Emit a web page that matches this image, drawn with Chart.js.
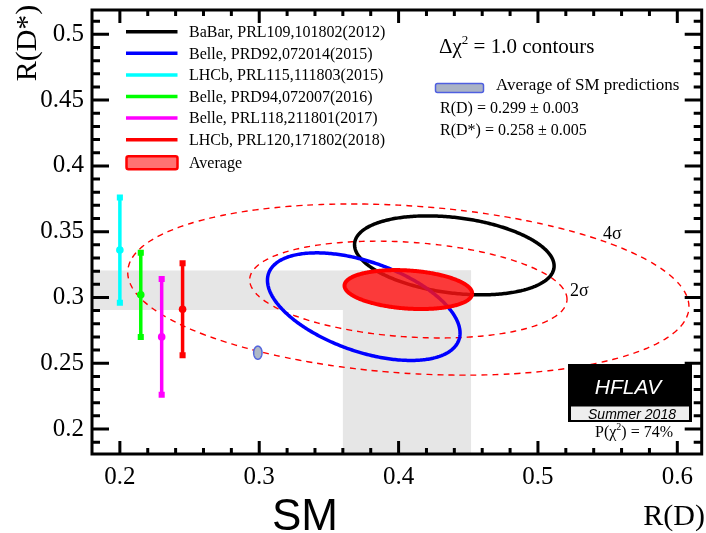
<!DOCTYPE html>
<html><head><meta charset="utf-8">
<script src="https://cdn.jsdelivr.net/npm/chart.js@4/dist/chart.umd.min.js"></script>
<style>html,body{margin:0;padding:0;background:#fff;overflow:hidden}#wrap{width:706px;height:533px;position:relative}</style>
</head><body><div id="wrap"><canvas id="c" width="706" height="533"></canvas></div>
<script>
// ---------------- data ----------------
const xRange = [0.18, 0.6175];              // R(D) axis range
const yRange = [0.181, 0.5185];             // R(D*) axis range
const xTickValues = [0.2, 0.3, 0.4, 0.5, 0.6];
const yTickValues = [0.2, 0.25, 0.3, 0.35, 0.4, 0.45, 0.5];

// 2D measurements (Δχ²=1 contours): R(D), σ, R(D*), σ, correlation
const ellNames = ['BaBar, PRL109,101802(2012)', 'Belle, PRD92,072014(2015)'];
const ellRD    = [0.440, 0.375];
const ellRDerr = [0.0716, 0.0691];
const ellRDs   = [0.332, 0.293];
const ellRDserr= [0.030, 0.0409];
const ellRho   = [-0.27, -0.49];

// R(D*)-only measurements, drawn as vertical error bars
const measNames = ['LHCb, PRL115,111803(2015)', 'Belle, PRD94,072007(2016)', 'Belle, PRL118,211801(2017)', 'LHCb, PRL120,171802(2018)'];
const measX  = [0.200, 0.215, 0.230, 0.245];
const measRDs= [0.336, 0.302, 0.270, 0.291];
const measLo = [0.296, 0.270, 0.226, 0.256];
const measHi = [0.376, 0.334, 0.314, 0.326];

// world average
const avgName = 'Average';
const avgRD = 0.407, avgRDerr = 0.0458, avgRDs = 0.306, avgRDserr = 0.0148, avgRho = -0.20;
const contourDchi2 = [6.18, 19.33];   // 2σ, 4σ (2 d.o.f.)
const contourLabels = ['2σ', '4σ'];

// 1σ bands of the average
const bandRD  = [0.360, 0.452];
const bandRDs = [0.2905, 0.3205];

// SM prediction
const smRD = 0.299, smRDerr = 0.003, smRDs = 0.258, smRDserr = 0.005;
const pChi2 = '74%';

// ---------------- styles ----------------
const ellColors  = ['#000000', '#0000ff'];
const measColors = ['#00ffff', '#00ff00', '#ff00ff', '#ff0000'];
const SERIF = '"Liberation Serif", "Times New Roman", serif';
const SANS = '"Liberation Sans", Arial, sans-serif';

function ellipsePoints(cx, sx, cy, sy, rho, k, n) {
  n = n || 180;
  const r = Math.sqrt(k), c = Math.sqrt(1 - rho * rho), pts = [];
  for (let i = 0; i <= n; i++) {
    const t = 2 * Math.PI * i / n;
    pts.push({x: cx + r * sx * Math.cos(t), y: cy + r * sy * (rho * Math.cos(t) + c * Math.sin(t))});
  }
  return pts;
}
function rectPoints(x0, x1, y0, y1) {
  return [{x:x0,y:y0},{x:x1,y:y0},{x:x1,y:y1},{x:x0,y:y1},{x:x0,y:y0}];
}

const datasets = [];
// grey bands
datasets.push({label:'bandH', data: rectPoints(xRange[0], bandRD[1], bandRDs[0], bandRDs[1]), showLine:true, fill:'shape',
  backgroundColor:'#e6e6e6', borderColor:'rgba(0,0,0,0)', borderWidth:0, pointRadius:0, order:20});
datasets.push({label:'bandV', data: rectPoints(bandRD[0], bandRD[1], yRange[0], bandRDs[1]), showLine:true, fill:'shape',
  backgroundColor:'#e6e6e6', borderColor:'rgba(0,0,0,0)', borderWidth:0, pointRadius:0, order:20});
// sigma contours of the average
contourDchi2.forEach((k, i) => datasets.push({label: contourLabels[i],
  data: ellipsePoints(avgRD, avgRDerr, avgRDs, avgRDserr, avgRho, k), showLine:true, fill:false,
  borderColor:'#ff0000', borderWidth:1.4, borderDash:[6,5], pointRadius:0, tension:0.001, order:15}));
// measurement ellipses
ellNames.forEach((nm, i) => datasets.push({label: nm,
  data: ellipsePoints(ellRD[i], ellRDerr[i], ellRDs[i], ellRDserr[i], ellRho[i], 1), showLine:true, fill:false,
  borderColor: ellColors[i], borderWidth:3.5, pointRadius:0, tension:0.001, order:12 - i}));
// average
datasets.push({label: avgName, data: ellipsePoints(avgRD, avgRDerr, avgRDs, avgRDserr, avgRho, 1), showLine:true,
  fill:'shape', backgroundColor:'rgba(255,20,20,0.82)', borderColor:'#ff0000', borderWidth:4, pointRadius:0,
  tension:0.001, order:5});
// error bars
measNames.forEach((nm, i) => datasets.push({label: nm,
  data: [{x: measX[i], y: measLo[i]}, {x: measX[i], y: measRDs[i]}, {x: measX[i], y: measHi[i]}],
  showLine:true, fill:false, borderColor: measColors[i], borderWidth:3.5,
  pointStyle:['rect','circle','rect'], pointRadius:[4.3,3.8,4.3], pointBorderWidth:0,
  pointBackgroundColor: measColors[i], order:3}));
// SM prediction
datasets.push({label:'SM', data: ellipsePoints(smRD, smRDerr, smRDs, smRDserr, 0, 1, 48), showLine:true, fill:'shape',
  backgroundColor:'#aeb8c6', borderColor:'#5566dd', borderWidth:1.5, pointRadius:0, tension:0.001, order:1});

function fmt(v) { return String(parseFloat(v.toFixed(2))); }

function drawRich(ctx, x, y, parts, family, align, style) {
  let w = 0;
  for (const p of parts) { ctx.font = (style||'') + ' ' + p[1] + 'px ' + family; w += ctx.measureText(p[0]).width; }
  let cx = align === 'center' ? x - w / 2 : align === 'right' ? x - w : x;
  ctx.textAlign = 'left'; ctx.textBaseline = 'alphabetic';
  for (const p of parts) {
    ctx.font = (style||'') + ' ' + p[1] + 'px ' + family;
    ctx.fillText(p[0], cx, y + (p[2] || 0));
    cx += ctx.measureText(p[0]).width;
  }
}

const overlay = {
  id: 'overlay',
  afterDatasetsDraw(chart) {
    const {ctx, chartArea: a, scales: {x, y}} = chart;
    ctx.save();
    // ticks (inward, all four sides)
    ctx.strokeStyle = '#000'; ctx.lineWidth = 3; ctx.lineCap = 'butt';
    ctx.beginPath();
    for (let i = 0; ; i++) {
      const v = 0.2 + i * 0.02; if (v > xRange[1] + 1e-9) break;
      const px = x.getPixelForValue(v);
      const major = xTickValues.some(t => Math.abs(t - v) < 1e-6);
      const L = major ? 13 : 6;
      ctx.moveTo(px, a.bottom); ctx.lineTo(px, a.bottom - L);
      ctx.moveTo(px, a.top); ctx.lineTo(px, a.top + L);
    }
    for (let i = 0; ; i++) {
      const v = 0.19 + i * 0.01; if (v > yRange[1] + 1e-9) break;
      const py = y.getPixelForValue(v);
      const major = yTickValues.some(t => Math.abs(t - v) < 1e-6);
      const L = major ? 17 : 8;
      ctx.moveTo(a.left, py); ctx.lineTo(a.left + L, py);
      ctx.moveTo(a.right, py); ctx.lineTo(a.right - L, py);
    }
    ctx.stroke();
    ctx.lineWidth = 3;
    ctx.strokeRect(a.left, a.top, a.right - a.left, a.bottom - a.top);

    ctx.fillStyle = '#000';
    // contour labels
    drawRich(ctx, 603, 239, [[contourLabels[1], 18]], SERIF, 'left');
    drawRich(ctx, 570, 296, [[contourLabels[0], 18]], SERIF, 'left');

    // legend (left)
    const ly0 = 31.7, lstep = 21.6;
    const legNames = ellNames.concat(measNames);
    const legColors = ellColors.concat(measColors);
    legNames.forEach((nm, i) => {
      const yy = ly0 + i * lstep;
      ctx.strokeStyle = legColors[i]; ctx.lineWidth = 3.5;
      ctx.beginPath(); ctx.moveTo(126, yy); ctx.lineTo(177.5, yy); ctx.stroke();
      ctx.fillStyle = '#000'; ctx.font = '16px ' + SERIF; ctx.textAlign = 'left'; ctx.textBaseline = 'middle';
      ctx.fillText(nm, 189, yy + 1);
    });
    {
      const yy = ly0 + legNames.length * lstep + 1.5;
      ctx.fillStyle = 'rgba(255,0,0,0.55)'; ctx.strokeStyle = '#ff0000'; ctx.lineWidth = 2.5;
      ctx.beginPath(); ctx.roundRect(126.5, yy - 6.5, 51, 13, 2); ctx.fill(); ctx.stroke();
      ctx.fillStyle = '#000'; ctx.font = '16px ' + SERIF; ctx.textAlign = 'left'; ctx.textBaseline = 'middle';
      ctx.fillText(avgName, 189, yy + 1);
    }

    // right text block
    ctx.fillStyle = '#000';
    drawRich(ctx, 439, 53, [['Δχ', 21], ['2', 13, -9], [' = 1.0 contours', 21]], SERIF, 'left');
    ctx.fillStyle = '#aab3c6'; ctx.strokeStyle = '#4f5fe0'; ctx.lineWidth = 1.5;
    ctx.beginPath(); ctx.roundRect(435.5, 83.5, 48, 9, 2); ctx.fill(); ctx.stroke();
    ctx.fillStyle = '#000';
    drawRich(ctx, 496, 89.5, [['Average of SM predictions', 17]], SERIF, 'left');
    drawRich(ctx, 440, 112.5, [['R(D) = ' + smRD.toFixed(3) + ' ± ' + smRDerr.toFixed(3), 16]], SERIF, 'left');
    drawRich(ctx, 440, 134.5, [['R(D*) = ' + smRDs.toFixed(3) + ' ± ' + smRDserr.toFixed(3), 16]], SERIF, 'left');

    // HFLAV logo
    ctx.fillStyle = '#000'; ctx.fillRect(568, 364, 124, 58);
    ctx.fillStyle = '#eeeeee'; ctx.fillRect(571, 406.5, 118, 13.5);
    ctx.fillStyle = '#fff';
    drawRich(ctx, 628, 394, [['HFLAV', 21]], SANS, 'center', 'italic');
    ctx.fillStyle = '#000';
    drawRich(ctx, 632, 418.5, [['Summer 2018', 14]], SANS, 'center', 'italic');
    drawRich(ctx, 634, 436.5, [['P(χ', 16], ['2', 10, -7], [') = ' + pChi2, 16]], SERIF, 'center');

    // axis titles
    ctx.save();
    ctx.translate(36, 43); ctx.rotate(-Math.PI / 2);
    ctx.font = '30px ' + SERIF; ctx.textAlign = 'center'; ctx.textBaseline = 'alphabetic';
    ctx.fillText('R(D*)', 0, 0);
    ctx.restore();
    drawRich(ctx, 705, 525, [['R(D)', 30]], SERIF, 'right');
    drawRich(ctx, 305, 530, [['SM', 44]], SANS, 'center');
    ctx.restore();
  }
};

new Chart(document.getElementById('c'), {
  type: 'scatter',
  data: {datasets},
  options: {
    responsive: false, animation: false, events: [],
    layout: {padding: {top: 10, right: 1.5, left: 0, bottom: 0}},
    plugins: {legend: {display: false}, tooltip: {enabled: false}},
    elements: {line: {tension: 0}},
    scales: {
      x: {type: 'linear', min: xRange[0], max: xRange[1],
        afterBuildTicks: s => { s.ticks = xTickValues.map(v => ({value: v})); },
        afterFit: s => { s.height = 79; s.paddingLeft = 0; s.paddingRight = 0; s.paddingTop = 0; s.paddingBottom = 0; },
        grid: {display: false, drawTicks: false}, border: {display: false},
        ticks: {color: '#000', font: {family: SERIF, size: 25}, padding: 8, maxRotation: 0, autoSkip: false,
          callback: v => fmt(v)}},
      y: {type: 'linear', min: yRange[0], max: yRange[1],
        afterBuildTicks: s => { s.ticks = yTickValues.map(v => ({value: v})); },
        afterFit: s => { s.width = 92; s.paddingTop = 0; s.paddingBottom = 0; s.paddingLeft = 0; s.paddingRight = 0; },
        grid: {display: false, drawTicks: false}, border: {display: false},
        ticks: {color: '#000', font: {family: SERIF, size: 25}, padding: 8, autoSkip: false,
          callback: v => fmt(v)}}
    }
  },
  plugins: [overlay]
});
</script>
</body></html>
